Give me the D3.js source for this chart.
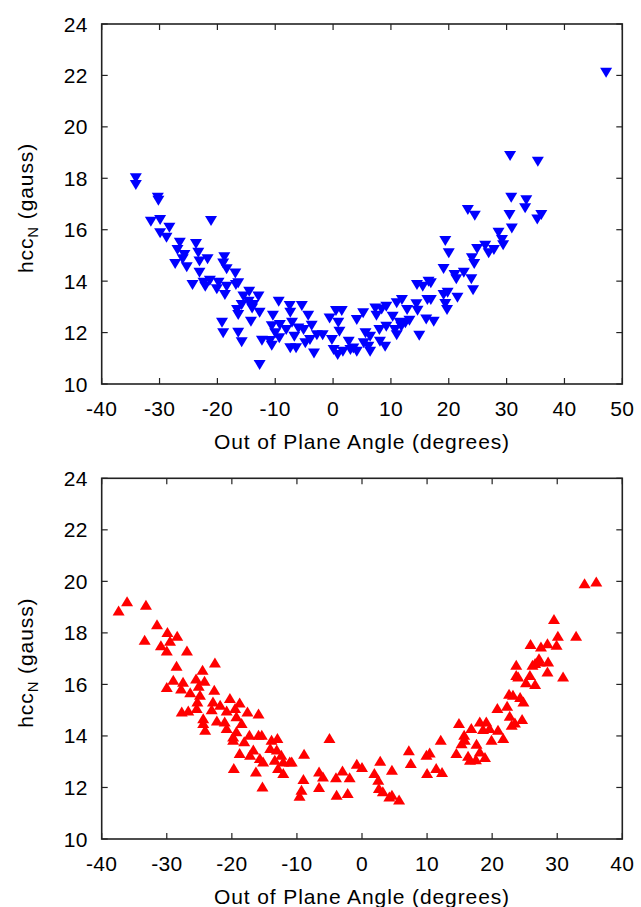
<!DOCTYPE html>
<html>
<head>
<meta charset="utf-8">
<script src="https://cdn.jsdelivr.net/npm/d3@7"></script>
<style>
  body { margin: 0; background: #fff; }
  svg text { font-family: "Liberation Sans", Arial, sans-serif; fill: #000; }
</style>
</head>
<body>
<svg id="chart"></svg>
<script>
// top panel: blue down triangles
const topX = [-34.1,-34.1,-30.3,-30.2,-31.5,-29.9,-28.3,-29.9,-28.8,-21.1,-26.5,-23.7,-26.9,-25.7,-23.3,-26.0,-27.3,-25.3,-23.1,-21.7,
  -18.8,-19.0,-18.4,-23.1,-16.9,-24.3,-22.4,-21.3,-19.8,-22.1,-20.1,-18.4,-16.8,-16.4,-18.7,-14.5,-15.5,-16.6,-16.4,-15.8,
  -14.6,-13.8,-12.9,-14.0,-12.7,-14.2,-19.2,-19.0,-16.4,-15.8,-12.7,-12.3,-10.9,-10.6,-10.4,-9.4,-10.6,-9.2,-10.0,-9.3,
  -8.1,-7.5,-7.4,-7.1,-6.7,-7.4,-6.4,-5.4,-6.0,-5.1,-4.3,-3.7,-4.8,-4.0,-3.3,-2.8,-1.8,-0.6,0.5,1.5,
  0.9,1.1,-0.2,0.1,0.8,1.7,2.7,3.0,4.1,4.1,5.2,5.6,5.3,6.1,3.5,6.4,6.4,7.3,7.5,8.4,
  9.2,8.0,9.2,8.1,9.0,10.3,10.7,11.0,11.0,11.9,11.5,12.5,12.8,13.2,11.8,14.4,14.6,14.9,16.1,17.4,
  14.5,15.5,16.5,16.9,16.3,16.9,19.1,19.8,21.5,19.4,19.7,19.1,21.0,21.3,22.6,23.9,24.2,19.4,20.0,24.0,
  24.4,24.9,26.3,26.9,27.8,28.6,29.2,29.4,23.3,24.5,30.5,30.9,30.8,33.4,33.2,35.3,36.0,30.6,35.4,47.2];
const topY = [18.0,17.74,17.24,17.13,16.31,16.38,16.08,15.86,15.69,16.34,15.49,15.44,15.21,15.02,15.1,14.85,14.67,14.54,14.76,14.85,
  14.93,14.69,14.46,14.33,14.30,13.85,13.94,14.02,13.94,13.78,13.68,13.78,13.85,13.92,13.46,13.59,13.40,12.88,12.68,13.07,
  13.20,13.07,13.40,12.94,12.77,12.42,12.38,11.97,11.99,11.62,10.74,11.68,11.67,11.49,12.65,13.20,12.25,12.29,11.97,11.78,
  12.10,13.03,12.77,12.38,11.84,11.39,11.39,13.03,12.16,12.10,12.65,12.27,11.58,11.71,11.19,11.90,11.90,12.55,12.84,12.84,
  12.38,12.03,11.71,11.32,11.13,11.25,11.64,11.32,11.25,12.49,12.75,11.97,11.58,11.45,11.38,11.84,11.25,12.94,12.65,12.90,
  13.0,12.10,12.23,11.64,11.45,12.62,12.10,11.90,13.14,13.27,12.38,12.36,12.88,12.46,12.23,13.10,12.85,11.88,12.51,12.42,
  13.85,13.78,13.98,13.92,13.27,13.27,13.46,13.55,13.35,13.11,12.88,14.47,14.24,14.07,14.33,14.07,13.65,15.56,15.08,14.89,
  14.67,15.25,15.38,15.08,15.21,15.88,15.60,15.40,16.77,16.54,16.57,16.05,17.24,17.15,16.83,16.40,16.57,18.87,18.64,22.1];

// bottom panel: red up triangles
const botX = [-37.4,-36.1,-33.2,-33.4,-31.5,-29.9,-28.4,-29.5,-30.9,-30.0,-26.9,-28.5,-24.5,-22.6,-29.0,-27.5,-25.5,-24.2,-30.0,-27.8,
  -26.4,-25.1,-22.7,-24.9,-20.3,-18.8,-25.3,-22.9,-21.8,-25.4,-27.7,-26.7,-23.1,-20.8,-19.5,-17.6,-15.9,-24.4,-22.3,-21.1,
  -19.3,-18.5,-24.4,-20.8,-24.1,-19.3,-19.8,-19.8,-18.8,-19.7,-17.2,-16.3,-15.3,-15.9,-15.4,-17.3,-18.1,-16.7,-15.7,-15.2,
  -13.9,-13.0,-14.1,-13.1,-12.4,-13.4,-12.1,-11.1,-12.9,-12.1,-10.8,-8.9,-9.0,-9.3,-9.6,-6.6,-6.0,-6.6,-5.0,-4.0,
  -3.0,-1.9,-3.9,-2.2,-0.8,0.0,1.9,2.8,2.5,2.6,3.2,4.2,4.6,5.7,4.6,7.2,7.5,9.9,10.4,10.0,
  11.4,12.3,12.1,14.5,14.9,15.7,15.3,15.8,16.3,16.6,16.8,17.6,18.1,17.5,18.9,18.1,19.1,18.6,19.6,19.9,
  20.9,21.7,20.8,22.3,22.7,23.0,23.5,24.6,22.6,23.2,24.3,24.8,23.7,23.7,24.0,25.2,25.8,26.6,26.2,26.6,
  27.2,27.3,28.6,28.5,30.9,25.9,27.5,28.5,29.9,30.1,32.9,29.5,34.2,36.0];
const botY = [18.87,19.23,19.09,17.73,18.34,18.03,17.89,17.69,17.52,17.32,17.32,16.72,16.57,16.85,16.18,16.10,16.23,16.14,15.90,15.84,
  15.70,15.95,15.79,15.60,15.47,15.30,15.34,15.34,15.21,15.08,14.95,14.99,15.04,14.99,15.08,14.95,14.87,14.69,14.60,14.56,
  14.76,14.50,14.50,14.31,14.24,14.18,13.98,13.85,13.34,12.76,13.27,12.62,12.04,14.05,14.05,14.05,13.79,13.47,13.14,13.01,
  13.85,13.92,13.53,13.47,13.27,13.08,13.01,13.01,12.76,12.56,13.01,13.31,12.33,11.91,11.68,12.62,12.43,12.02,13.92,12.40,
  12.66,12.40,11.72,11.79,12.92,12.79,12.56,13.04,12.30,11.98,11.85,11.65,11.72,11.53,12.69,13.44,12.95,13.27,13.36,12.56,
  12.76,12.60,13.85,13.34,14.50,14.05,13.72,13.85,13.23,13.08,14.31,13.70,13.40,13.10,13.18,14.56,14.56,14.27,14.31,13.85,
  14.24,13.92,15.08,15.17,14.78,14.43,14.52,14.66,15.64,15.60,15.51,15.34,16.76,16.37,16.31,16.08,16.37,16.02,16.76,16.83,
  17.02,16.89,16.89,16.50,16.31,17.57,17.47,17.60,17.54,17.89,17.89,18.54,19.93,19.99];

const yTicks = [10, 12, 14, 16, 18, 20, 22, 24];

const width = 641;
const height = 907;
const left = 101.7;
const right = 622.3;

const svg = d3.select('#chart')
    .attr('width', width)
    .attr('height', height);

function drawPanel(opts) {
    const x = d3.scaleLinear().domain(opts.xDomain).range([left, right]);
    const y = d3.scaleLinear().domain([10, 24]).range([opts.bottom, opts.top]);
    const g = svg.append('g');
    const tickLen = 6;

    // frame
    g.append('rect')
        .attr('x', left).attr('y', opts.top)
        .attr('width', right - left).attr('height', opts.bottom - opts.top)
        .attr('fill', 'none').attr('stroke', '#222').attr('stroke-width', 1.6);

    // ticks (inward, mirrored)
    opts.xTicks.forEach(t => {
        g.append('line').attr('x1', x(t)).attr('x2', x(t))
            .attr('y1', opts.bottom).attr('y2', opts.bottom - tickLen)
            .attr('stroke', '#222').attr('stroke-width', 1.2);
        g.append('line').attr('x1', x(t)).attr('x2', x(t))
            .attr('y1', opts.top).attr('y2', opts.top + tickLen)
            .attr('stroke', '#222').attr('stroke-width', 1.2);
        g.append('text').attr('x', x(t)).attr('y', opts.bottom + 32)
            .attr('text-anchor', 'middle').attr('font-size', 21)
            .attr('letter-spacing', 0.3).text(t);
    });
    yTicks.forEach(t => {
        g.append('line').attr('x1', left).attr('x2', left + tickLen)
            .attr('y1', y(t)).attr('y2', y(t))
            .attr('stroke', '#222').attr('stroke-width', 1.2);
        g.append('line').attr('x1', right).attr('x2', right - tickLen)
            .attr('y1', y(t)).attr('y2', y(t))
            .attr('stroke', '#222').attr('stroke-width', 1.2);
        g.append('text').attr('x', left - 14).attr('y', y(t) + 7.5)
            .attr('text-anchor', 'end').attr('font-size', 21)
            .attr('letter-spacing', 0.3).text(t);
    });

    // axis titles
    g.append('text').attr('x', (left + right) / 2).attr('y', opts.bottom + 65)
        .attr('text-anchor', 'middle').attr('font-size', 21)
        .attr('letter-spacing', 0.9)
        .text('Out of Plane Angle (degrees)');

    const yt = g.append('text')
        .attr('transform', `translate(33, ${(opts.top + opts.bottom) / 2 + 4}) rotate(-90)`)
        .attr('text-anchor', 'middle').attr('font-size', 21)
        .attr('letter-spacing', 0.9);
    yt.append('tspan').text('hcc');
    yt.append('tspan').attr('font-size', 15).attr('dy', 5).text('N');
    yt.append('tspan').attr('dy', -5).text(' (gauss)');

    // markers
    const w = 6, h = 5;
    const tri = opts.down
        ? `M${-w},${-h}L${w},${-h}L0,${h}Z`
        : `M${-w},${h}L${w},${h}L0,${-h}Z`;
    g.append('g').selectAll('path')
        .data(d3.zip(opts.xs, opts.ys))
        .join('path')
        .attr('d', tri)
        .attr('transform', d => `translate(${x(d[0])},${y(d[1])})`)
        .attr('fill', opts.color);
}

drawPanel({
    xs: topX, ys: topY, xDomain: [-40, 50],
    xTicks: [-40, -30, -20, -10, 0, 10, 20, 30, 40, 50],
    top: 24, bottom: 384, color: '#0000ff', down: true
});

drawPanel({
    xs: botX, ys: botY, xDomain: [-40, 40],
    xTicks: [-40, -30, -20, -10, 0, 10, 20, 30, 40],
    top: 478.3, bottom: 839, color: '#ff0000', down: false
});
</script>
</body>
</html>
